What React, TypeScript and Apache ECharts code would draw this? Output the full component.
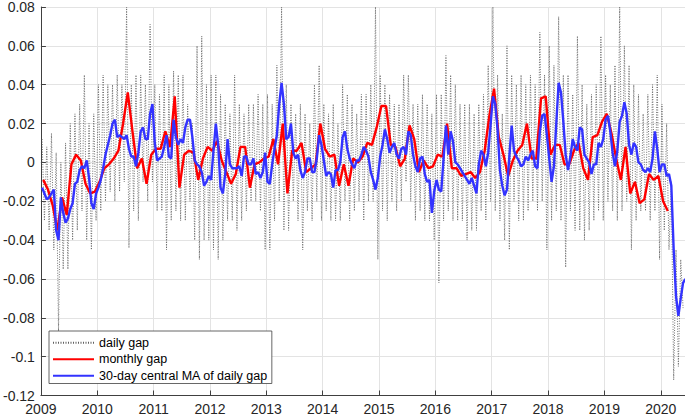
import React, { useEffect, useRef } from "react";
import * as echarts from "echarts";

// Monthly gap, Jan 2009 .. Feb 2020 (plotted mid-month)
const monthlyGap: number[] = [
  -0.009, -0.014, -0.022, -0.035, -0.018, -0.027, -0.001, 0.004, 0.001, -0.011, -0.016, -0.015,
  -0.010, -0.003, -0.001, 0.002, 0.006, 0.020, 0.036, 0.016, -0.003, 0.002, -0.011, 0.004,
  0.007, 0.007, 0.016, 0.008, 0.034, -0.013, 0.004, 0.006, 0.005, -0.009, 0.002, 0.008,
  0.006, 0.011, 0.001, -0.005, -0.011, -0.006, 0.008, 0.008, -0.013, -0.001, 0.000, 0.002,
  0.003, 0.012, -0.001, 0.020, -0.016, 0.006, 0.006, 0.010, -0.005, -0.003, -0.001, 0.020,
  0.007, 0.003, 0.004, -0.012, -0.001, -0.012, 0.002, 0.000, 0.003, 0.010, 0.009, 0.018,
  0.029, 0.029, 0.009, 0.008, -0.002, 0.002, 0.019, 0.012, -0.005, 0.001, -0.003, -0.002,
  0.004, 0.003, 0.020, -0.003, -0.003, -0.007, -0.006, -0.005, -0.008, -0.005, 0.006, 0.024,
  0.038, 0.013, 0.004, -0.007, 0.001, 0.006, 0.009, 0.020, 0.002, 0.002, 0.033, 0.034,
  0.004, 0.009, 0.009, -0.001, -0.001, 0.006, 0.010, -0.003, -0.009, 0.013, 0.014, 0.021,
  0.025, 0.015, 0.002, -0.009, 0.008, -0.016, -0.010, -0.021, -0.019, -0.006, -0.009, -0.007,
  -0.020, -0.025,
];

// 30-day central MA, read twice a month, Jan 2009 .. mid-May 2020
const maGap: number[] = [
  -0.013, -0.016, -0.019, -0.018, -0.016, -0.014, -0.035, -0.040, -0.018, -0.026, -0.031, -0.029,
  -0.024, -0.021, -0.011, -0.010, -0.004, -0.002, -0.003, 0.001, -0.008, -0.021, -0.024, -0.016,
  -0.013, -0.009, -0.003, 0.004, 0.009, 0.014, 0.020, 0.022, 0.013, 0.014, 0.013, 0.012,
  0.014, 0.007, 0.003, 0.003, -0.002, 0.005, 0.016, 0.018, 0.012, 0.012, 0.025, 0.030,
  0.010, 0.001, 0.002, 0.003, 0.008, 0.014, 0.003, 0.002, 0.022, 0.013, 0.009, 0.012,
  0.010, 0.018, 0.022, 0.022, 0.013, 0.001, -0.001, -0.002, -0.005, -0.012, -0.010, -0.007,
  -0.009, 0.006, 0.020, 0.009, -0.013, -0.016, -0.006, 0.012, -0.001, -0.003, -0.003, -0.003,
  -0.002, -0.007, 0.003, 0.003, -0.001, -0.001, 0.002, -0.006, -0.005, -0.008, -0.005, 0.005,
  -0.010, -0.011, -0.001, 0.007, 0.014, 0.030, 0.041, 0.030, 0.012, 0.013, 0.020, 0.005,
  0.002, 0.004, -0.004, -0.008, -0.005, 0.002, 0.002, -0.005, -0.005, 0.002, 0.014, 0.009,
  0.001, -0.007, -0.005, -0.006, -0.013, -0.004, -0.004, 0.000, 0.013, 0.016, 0.007, 0.002,
  -0.001, -0.003, 0.001, 0.001, 0.004, 0.008, 0.006, 0.003, -0.005, -0.009, -0.014, -0.008,
  0.003, 0.009, 0.017, 0.012, 0.005, 0.008, 0.010, 0.004, 0.002, 0.007, 0.008, 0.004,
  0.016, 0.014, 0.004, -0.002, -0.005, 0.002, 0.003, -0.006, -0.010, -0.009, -0.026, -0.015,
  -0.009, -0.014, -0.015, 0.002, 0.019, 0.004, 0.016, 0.011, 0.000, -0.001, -0.003, -0.005,
  -0.007, -0.009, -0.011, -0.008, -0.012, -0.016, -0.001, 0.006, 0.004, -0.002, 0.005, 0.019,
  0.034, 0.030, 0.017, -0.004, -0.012, -0.017, -0.014, 0.003, 0.019, 0.006, 0.003, 0.001,
  -0.002, -0.001, 0.003, 0.001, 0.004, 0.006, -0.002, -0.003, 0.016, 0.024, 0.025, 0.014,
  0.002, -0.010, -0.002, 0.020, 0.041, 0.036, 0.021, 0.004, -0.004, 0.003, 0.012, 0.008,
  0.006, 0.018, 0.017, 0.004, 0.002, 0.000, -0.006, -0.001, -0.001, 0.010, 0.008, 0.012,
  0.022, 0.024, 0.016, 0.005, -0.002, 0.006, 0.021, 0.024, 0.031, 0.025, 0.009, 0.004,
  0.010, 0.008, 0.000, -0.001, -0.004, -0.005, -0.003, -0.005, 0.002, 0.016, 0.007, -0.005,
  -0.001, -0.001, -0.007, -0.006, -0.012, -0.045, -0.069, -0.079, -0.070, -0.062, -0.060,
];

// Daily gap: monthly high and low swings, Jan 2009 .. May 2020
const dailyHigh: number[] = [
  0.012, 0.008, 0.015, 0.005, 0.000, 0.010, 0.020, 0.025, 0.030, 0.045, 0.020, 0.025,
  0.040, 0.045, 0.040, 0.040, 0.045, 0.040, 0.080, 0.040, 0.045, 0.045, 0.040, 0.071,
  0.040, 0.035, 0.045, 0.040, 0.047, 0.045, 0.045, 0.030, 0.020, 0.060, 0.065, 0.040,
  0.045, 0.045, 0.035, 0.030, 0.025, 0.045, 0.030, 0.025, 0.030, 0.030, 0.035, 0.030,
  0.035, 0.030, 0.050, 0.080, 0.040, 0.030, 0.025, 0.030, 0.025, 0.020, 0.040, 0.050,
  0.030, 0.025, 0.030, 0.020, 0.040, 0.035, 0.030, 0.025, 0.035, 0.035, 0.040, 0.080,
  0.045, 0.040, 0.035, 0.030, 0.030, 0.045, 0.045, 0.030, 0.030, 0.035, 0.030, 0.025,
  0.035, 0.035, 0.055, 0.045, 0.040, 0.030, 0.030, 0.030, 0.025, 0.030, 0.035, 0.050,
  0.080, 0.045, 0.025, 0.060, 0.045, 0.040, 0.045, 0.040, 0.045, 0.040, 0.067, 0.045,
  0.060, 0.050, 0.075, 0.045, 0.045, 0.035, 0.065, 0.040, 0.030, 0.035, 0.040, 0.065,
  0.045, 0.040, 0.050, 0.080, 0.060, 0.050, 0.040, 0.035, 0.025, 0.035, 0.040, 0.045,
  0.030, 0.020, -0.010, -0.045, -0.050,
];
const dailyLow: number[] = [
  -0.030, -0.035, -0.045, -0.087, -0.055, -0.055, -0.040, -0.035, -0.025, -0.040, -0.045, -0.030,
  -0.025, -0.020, -0.015, -0.020, -0.015, -0.010, -0.044, -0.025, -0.030, -0.010, -0.020, -0.010,
  -0.025, -0.025, -0.045, -0.030, -0.025, -0.030, -0.030, -0.020, -0.040, -0.050, -0.040, -0.040,
  -0.045, -0.050, -0.040, -0.030, -0.030, -0.035, -0.030, -0.025, -0.020, -0.020, -0.025, -0.045,
  -0.045, -0.030, -0.020, -0.035, -0.035, -0.020, -0.030, -0.045, -0.025, -0.030, -0.020, -0.030,
  -0.025, -0.030, -0.030, -0.030, -0.020, -0.030, -0.025, -0.020, -0.030, -0.020, -0.020, -0.050,
  -0.025, -0.030, -0.020, -0.025, -0.020, -0.010, -0.020, -0.030, -0.025, -0.030, -0.030, -0.040,
  -0.062, -0.030, -0.025, -0.030, -0.030, -0.030, -0.040, -0.035, -0.035, -0.025, -0.030, -0.020,
  -0.025, -0.030, -0.040, -0.045, -0.020, -0.030, -0.030, -0.025, -0.020, -0.025, -0.020, -0.045,
  -0.030, -0.025, -0.030, -0.054, -0.025, -0.035, -0.035, -0.040, -0.035, -0.030, -0.025, -0.030,
  -0.020, -0.025, -0.030, -0.025, -0.020, -0.045, -0.030, -0.025, -0.025, -0.030, -0.025, -0.050,
  -0.035, -0.045, -0.112, -0.105, -0.075,
];

const yearTicks = { min: 2009, max: 2020.43, interval: 1 };
const yTicks = { min: -0.12, max: 0.08, interval: 0.02 };
const seriesNames = ["daily gap", "monthly gap", "30-day central MA of daily gap"];

const FONT = "'Liberation Sans', Arial, Helvetica, sans-serif";

export default function App() {
  const ref = useRef<HTMLDivElement>(null);
  useEffect(() => {
    if (!ref.current) return;
    const chart = echarts.init(ref.current, undefined, { renderer: "svg" });

    const dailyData: number[][] = [];
    dailyHigh.forEach((h, k) => {
      dailyData.push([2009 + (k + 0.25) / 12, h]);
      dailyData.push([2009 + (k + 0.75) / 12, dailyLow[k]]);
    });
    const monthlyData = monthlyGap.map((v, k) => [2009 + (k + 0.5) / 12, v]);
    const maData = maGap.map((v, i) => [2009 + (i + 0.5) / 24, v]);

    chart.setOption({
      animation: false,
      backgroundColor: "#ffffff",
      textStyle: { fontFamily: FONT },
      grid: { left: 37, right: 0, top: 5.5, bottom: 20.5, containLabel: false },
      legend: {
        orient: "vertical",
        left: 49,
        top: 331,
        itemWidth: 41,
        itemHeight: 12,
        itemGap: 1,
        padding: [4, 4, 0, 3],
        backgroundColor: "#ffffff",
        borderColor: "#404040",
        borderWidth: 0.8,
        borderRadius: 0,
        itemStyle: { opacity: 0 },
        data: seriesNames,
        textStyle: { fontSize: 12.5, color: "#000", fontFamily: FONT, lineHeight: 15.5 },
      },
      xAxis: {
        type: "value",
        min: yearTicks.min,
        max: yearTicks.max,
        interval: yearTicks.interval,
        axisLine: { onZero: false, lineStyle: { color: "#404040", width: 1 } },
        axisTick: { inside: true, length: 5, lineStyle: { color: "#404040" } },
        axisLabel: {
          fontSize: 14,
          color: "#262626",
          fontFamily: FONT,
          margin: 6,
          showMaxLabel: false,
          formatter: (v: number) => String(Math.round(v)),
        },
        splitLine: { show: true, lineStyle: { color: "#e3e3e3", width: 1 } },
      },
      yAxis: {
        type: "value",
        min: yTicks.min,
        max: yTicks.max,
        interval: yTicks.interval,
        axisLine: { show: true, lineStyle: { color: "#404040", width: 1 } },
        axisTick: { show: true, inside: true, length: 5, lineStyle: { color: "#404040" } },
        axisLabel: {
          fontSize: 14,
          color: "#262626",
          fontFamily: FONT,
          margin: 6,
          formatter: (v: number) => String(+v.toFixed(2)),
        },
        splitLine: { show: true, lineStyle: { color: "#e3e3e3", width: 1 } },
      },
      series: [
        {
          name: seriesNames[0],
          type: "line",
          data: dailyData,
          symbol: "none",
          lineStyle: { color: "#606060", width: 0.9, type: [1, 1.5] },
          itemStyle: { color: "#606060" },
          z: 1,
        },
        {
          name: seriesNames[1],
          type: "line",
          data: monthlyData,
          symbol: "none",
          lineStyle: { color: "#ff0000", width: 2.4 },
          itemStyle: { color: "#ff0000" },
          z: 2,
        },
        {
          name: seriesNames[2],
          type: "line",
          data: maData,
          symbol: "none",
          lineStyle: { color: "#3333ff", width: 2.4 },
          itemStyle: { color: "#3333ff" },
          z: 3,
        },
      ],
    });
    return () => chart.dispose();
  }, []);
  return (
    <div
      ref={ref}
      style={{ position: "fixed", left: 0, top: 0, width: 685, height: 416, background: "#fff" }}
    />
  );
}
